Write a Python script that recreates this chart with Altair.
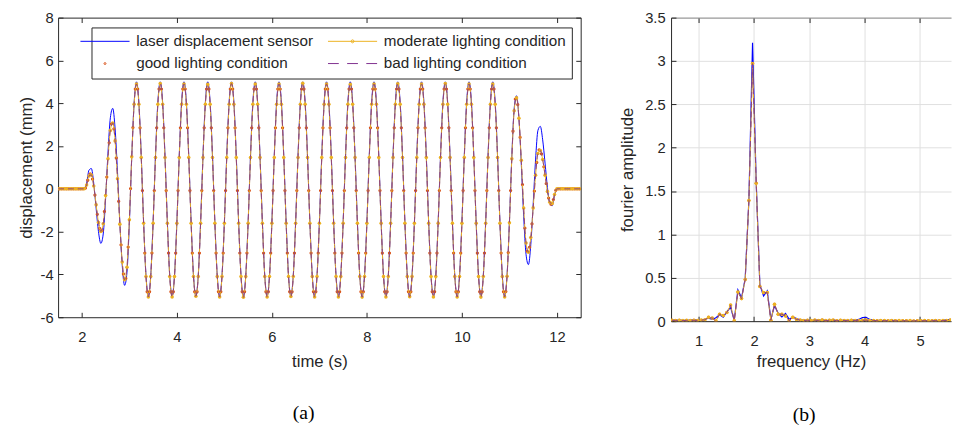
import altair as alt
import pandas as pd

# ---------------- series names / colours ----------------
LASER = "laser displacement sensor"
GOOD = "good lighting condition"
MOD = "moderate lighting condition"
BAD = "bad lighting condition"
legend_order = [LASER, GOOD, MOD, BAD]          # 2-column legend, filled column by column
legend_colors = ["#0000FF", "#D95319", "#EDB120", "#7E2F8E"]
C_LASER, C_GOOD, C_MOD, C_BAD = legend_colors
TEXT = "#262626"
SANS = "Liberation Sans"
SERIF = "Liberation Serif"

# legend glyphs (custom symbol paths, unit = sqrt(size)/2 px)
LINE = "M-5,0L5,0"
DASH = "M-5,0L-2.8,0M-1.1,0L1.1,0M2.8,0L5,0"
DOT = "M0.2,0A0.2,0.2 0 1,1 -0.2,0A0.2,0.2 0 1,1 0.2,0Z"
LINE_DOT = LINE + "M0.3,0A0.3,0.3 0 1,1 -0.3,0A0.3,0.3 0 1,1 0.3,0Z"
legend_shapes = [LINE, DOT, LINE_DOT, DASH]

# ---------------- (a) displacement time histories ----------------
time_s = [
    1.50, 1.55, 1.60, 1.65, 1.70, 1.75, 1.80, 1.85, 1.90, 1.95,
    2.00, 2.05, 2.10, 2.15, 2.20, 2.25, 2.30, 2.35, 2.40, 2.45,
    2.50, 2.55, 2.60, 2.65, 2.70, 2.75, 2.80, 2.85, 2.90, 2.95,
    3.00, 3.05, 3.10, 3.15, 3.20, 3.25, 3.30, 3.35, 3.40, 3.45,
    3.50, 3.55, 3.60, 3.65, 3.70, 3.75, 3.80, 3.85, 3.90, 3.95,
    4.00, 4.05, 4.10, 4.15, 4.20, 4.25, 4.30, 4.35, 4.40, 4.45,
    4.50, 4.55, 4.60, 4.65, 4.70, 4.75, 4.80, 4.85, 4.90, 4.95,
    5.00, 5.05, 5.10, 5.15, 5.20, 5.25, 5.30, 5.35, 5.40, 5.45,
    5.50, 5.55, 5.60, 5.65, 5.70, 5.75, 5.80, 5.85, 5.90, 5.95,
    6.00, 6.05, 6.10, 6.15, 6.20, 6.25, 6.30, 6.35, 6.40, 6.45,
    6.50, 6.55, 6.60, 6.65, 6.70, 6.75, 6.80, 6.85, 6.90, 6.95,
    7.00, 7.05, 7.10, 7.15, 7.20, 7.25, 7.30, 7.35, 7.40, 7.45,
    7.50, 7.55, 7.60, 7.65, 7.70, 7.75, 7.80, 7.85, 7.90, 7.95,
    8.00, 8.05, 8.10, 8.15, 8.20, 8.25, 8.30, 8.35, 8.40, 8.45,
    8.50, 8.55, 8.60, 8.65, 8.70, 8.75, 8.80, 8.85, 8.90, 8.95,
    9.00, 9.05, 9.10, 9.15, 9.20, 9.25, 9.30, 9.35, 9.40, 9.45,
    9.50, 9.55, 9.60, 9.65, 9.70, 9.75, 9.80, 9.85, 9.90, 9.95,
    10.00, 10.05, 10.10, 10.15, 10.20, 10.25, 10.30, 10.35, 10.40, 10.45,
    10.50, 10.55, 10.60, 10.65, 10.70, 10.75, 10.80, 10.85, 10.90, 10.95,
    11.00, 11.05, 11.10, 11.15, 11.20, 11.25, 11.30, 11.35, 11.40, 11.45,
    11.50, 11.55, 11.60, 11.65, 11.70, 11.75, 11.80, 11.85, 11.90, 11.95,
    12.00, 12.05, 12.10, 12.15, 12.20, 12.25, 12.30, 12.35, 12.40, 12.45,
    12.50,
]

laser_mm = [
    0, 0, 0, 0, 0, 0, 0, 0, 0, 0,
    0, 0, 0.26, 0.87, 0.95, 0.26, -0.90, -2.00, -2.55, -2.11,
    -0.46, 1.67, 3.32, 3.76, 2.81, 0.81, -1.57, -3.57, -4.51, -3.90,
    -1.60, 1.46, 4.01, 5.00, 4.05, 1.55, -1.55, -4.05, -5.00, -4.05,
    -1.55, 1.55, 4.05, 5.00, 4.05, 1.55, -1.55, -4.05, -5.00, -4.05,
    -1.55, 1.55, 4.05, 5.00, 4.05, 1.55, -1.55, -4.05, -5.00, -4.05,
    -1.55, 1.55, 4.05, 5.00, 4.05, 1.55, -1.55, -4.05, -5.00, -4.05,
    -1.55, 1.55, 4.05, 5.00, 4.05, 1.55, -1.55, -4.05, -5.00, -4.05,
    -1.55, 1.55, 4.05, 5.00, 4.05, 1.55, -1.55, -4.05, -5.00, -4.05,
    -1.55, 1.55, 4.05, 5.00, 4.05, 1.55, -1.55, -4.05, -5.00, -4.05,
    -1.55, 1.55, 4.05, 5.00, 4.05, 1.55, -1.55, -4.05, -5.00, -4.05,
    -1.55, 1.55, 4.05, 5.00, 4.05, 1.55, -1.55, -4.05, -5.00, -4.05,
    -1.55, 1.55, 4.05, 5.00, 4.05, 1.55, -1.55, -4.05, -5.00, -4.05,
    -1.55, 1.55, 4.05, 5.00, 4.05, 1.55, -1.55, -4.05, -5.00, -4.05,
    -1.55, 1.55, 4.05, 5.00, 4.05, 1.55, -1.55, -4.05, -5.00, -4.05,
    -1.55, 1.55, 4.05, 5.00, 4.05, 1.55, -1.55, -4.05, -5.00, -4.05,
    -1.55, 1.55, 4.05, 5.00, 4.05, 1.55, -1.55, -4.05, -5.00, -4.05,
    -1.55, 1.55, 4.05, 5.00, 4.05, 1.55, -1.55, -4.05, -5.00, -4.05,
    -1.55, 1.55, 4.05, 5.00, 4.05, 1.55, -1.55, -4.05, -5.00, -4.03,
    -1.52, 1.48, 3.75, 4.35, 3.30, 1.15, -1.28, -3.07, -3.54, -2.60,
    -0.72, 1.35, 2.73, 2.92, 2.29, 1.20, 0.07, -0.68, -0.79, -0.30,
    0, 0, 0, 0, 0, 0, 0, 0, 0, 0,
    0,
]

moderate_mm = [
    0, 0, 0, 0, 0, 0, 0, 0, 0, 0,
    0, 0, 0.18, 0.60, 0.65, 0.13, -0.74, -1.57, -1.99, -1.63,
    -0.31, 1.41, 2.73, 3.08, 2.24, 0.47, -1.65, -3.42, -4.25, -3.66,
    -1.45, 1.50, 3.95, 4.90, 3.95, 1.46, -1.61, -4.10, -5.05, -4.10,
    -1.61, 1.46, 3.95, 4.92, 3.95, 1.46, -1.61, -4.10, -5.05, -4.10,
    -1.61, 1.46, 3.95, 4.90, 3.95, 1.46, -1.61, -4.10, -5.02, -4.10,
    -1.61, 1.46, 3.95, 4.88, 3.95, 1.46, -1.61, -4.10, -5.05, -4.10,
    -1.61, 1.46, 3.95, 4.92, 3.95, 1.46, -1.61, -4.10, -5.07, -4.10,
    -1.61, 1.46, 3.95, 4.90, 3.95, 1.46, -1.61, -4.10, -5.05, -4.10,
    -1.61, 1.46, 3.95, 4.90, 3.95, 1.46, -1.61, -4.10, -5.03, -4.10,
    -1.61, 1.46, 3.95, 4.93, 3.95, 1.46, -1.61, -4.10, -5.05, -4.10,
    -1.61, 1.46, 3.95, 4.90, 3.95, 1.46, -1.61, -4.10, -5.05, -4.10,
    -1.61, 1.46, 3.95, 4.88, 3.95, 1.46, -1.61, -4.10, -5.06, -4.10,
    -1.61, 1.46, 3.95, 4.90, 3.95, 1.46, -1.61, -4.10, -5.05, -4.10,
    -1.61, 1.46, 3.95, 4.91, 3.95, 1.46, -1.61, -4.10, -5.04, -4.10,
    -1.61, 1.46, 3.95, 4.90, 3.95, 1.46, -1.61, -4.10, -5.05, -4.10,
    -1.61, 1.46, 3.95, 4.92, 3.95, 1.46, -1.61, -4.10, -5.05, -4.10,
    -1.61, 1.46, 3.95, 4.90, 3.95, 1.46, -1.61, -4.10, -5.06, -4.10,
    -1.61, 1.46, 3.95, 4.90, 3.95, 1.46, -1.61, -4.10, -5.05, -4.09,
    -1.59, 1.40, 3.65, 4.25, 3.30, 1.33, -0.90, -2.53, -2.96, -2.28,
    -0.89, 0.63, 1.65, 1.79, 1.37, 0.64, -0.13, -0.63, -0.68, -0.27,
    0, 0, 0, 0, 0, 0, 0, 0, 0, 0,
    0,
]

# the bad-lighting trace cannot be told apart from the moderate one in the picture
bad_mm = moderate_mm

time_good_s = [
    1.525, 1.575, 1.625, 1.675, 1.725, 1.775, 1.825, 1.875, 1.925, 1.975,
    2.025, 2.075, 2.125, 2.175, 2.225, 2.275, 2.325, 2.375, 2.425, 2.475,
    2.525, 2.575, 2.625, 2.675, 2.725, 2.775, 2.825, 2.875, 2.925, 2.975,
    3.025, 3.075, 3.125, 3.175, 3.225, 3.275, 3.325, 3.375, 3.425, 3.475,
    3.525, 3.575, 3.625, 3.675, 3.725, 3.775, 3.825, 3.875, 3.925, 3.975,
    4.025, 4.075, 4.125, 4.175, 4.225, 4.275, 4.325, 4.375, 4.425, 4.475,
    4.525, 4.575, 4.625, 4.675, 4.725, 4.775, 4.825, 4.875, 4.925, 4.975,
    5.025, 5.075, 5.125, 5.175, 5.225, 5.275, 5.325, 5.375, 5.425, 5.475,
    5.525, 5.575, 5.625, 5.675, 5.725, 5.775, 5.825, 5.875, 5.925, 5.975,
    6.025, 6.075, 6.125, 6.175, 6.225, 6.275, 6.325, 6.375, 6.425, 6.475,
    6.525, 6.575, 6.625, 6.675, 6.725, 6.775, 6.825, 6.875, 6.925, 6.975,
    7.025, 7.075, 7.125, 7.175, 7.225, 7.275, 7.325, 7.375, 7.425, 7.475,
    7.525, 7.575, 7.625, 7.675, 7.725, 7.775, 7.825, 7.875, 7.925, 7.975,
    8.025, 8.075, 8.125, 8.175, 8.225, 8.275, 8.325, 8.375, 8.425, 8.475,
    8.525, 8.575, 8.625, 8.675, 8.725, 8.775, 8.825, 8.875, 8.925, 8.975,
    9.025, 9.075, 9.125, 9.175, 9.225, 9.275, 9.325, 9.375, 9.425, 9.475,
    9.525, 9.575, 9.625, 9.675, 9.725, 9.775, 9.825, 9.875, 9.925, 9.975,
    10.025, 10.075, 10.125, 10.175, 10.225, 10.275, 10.325, 10.375, 10.425, 10.475,
    10.525, 10.575, 10.625, 10.675, 10.725, 10.775, 10.825, 10.875, 10.925, 10.975,
    11.025, 11.075, 11.125, 11.175, 11.225, 11.275, 11.325, 11.375, 11.425, 11.475,
    11.525, 11.575, 11.625, 11.675, 11.725, 11.775, 11.825, 11.875, 11.925, 11.975,
    12.025, 12.075, 12.125, 12.175, 12.225, 12.275, 12.325, 12.375, 12.425, 12.475,
]

good_mm = [
    0, 0, 0, 0, 0, 0, 0, 0, 0, 0,
    0, 0.03, 0.40, 0.70, 0.45, -0.29, -1.19, -1.85, -1.95, -1.06,
    0.55, 2.15, 3.04, 2.80, 1.44, -0.59, -2.62, -3.98, -4.19, -2.72,
    0.01, 2.86, 4.66, 4.66, 2.85, -0.08, -3.00, -4.81, -4.81, -3.00,
    -0.08, 2.85, 4.66, 4.66, 2.85, -0.08, -3.00, -4.81, -4.81, -3.00,
    -0.08, 2.85, 4.66, 4.66, 2.85, -0.08, -3.00, -4.81, -4.81, -3.00,
    -0.08, 2.85, 4.66, 4.66, 2.85, -0.08, -3.00, -4.81, -4.81, -3.00,
    -0.08, 2.85, 4.66, 4.66, 2.85, -0.08, -3.00, -4.81, -4.81, -3.00,
    -0.08, 2.85, 4.66, 4.66, 2.85, -0.08, -3.00, -4.81, -4.81, -3.00,
    -0.08, 2.85, 4.66, 4.66, 2.85, -0.08, -3.00, -4.81, -4.81, -3.00,
    -0.08, 2.85, 4.66, 4.66, 2.85, -0.08, -3.00, -4.81, -4.81, -3.00,
    -0.08, 2.85, 4.66, 4.66, 2.85, -0.08, -3.00, -4.81, -4.81, -3.00,
    -0.08, 2.85, 4.66, 4.66, 2.85, -0.08, -3.00, -4.81, -4.81, -3.00,
    -0.08, 2.85, 4.66, 4.66, 2.85, -0.08, -3.00, -4.81, -4.81, -3.00,
    -0.08, 2.85, 4.66, 4.66, 2.85, -0.08, -3.00, -4.81, -4.81, -3.00,
    -0.08, 2.85, 4.66, 4.66, 2.85, -0.08, -3.00, -4.81, -4.81, -3.00,
    -0.08, 2.85, 4.66, 4.66, 2.85, -0.08, -3.00, -4.81, -4.81, -3.00,
    -0.08, 2.85, 4.66, 4.66, 2.85, -0.08, -3.00, -4.81, -4.81, -3.00,
    -0.08, 2.85, 4.66, 4.66, 2.85, -0.08, -3.00, -4.81, -4.80, -2.98,
    -0.08, 2.69, 4.19, 3.93, 2.40, 0.20, -1.84, -2.92, -2.73, -1.64,
    -0.11, 1.23, 1.82, 1.63, 1.03, 0.24, -0.43, -0.72, -0.50, -0.07,
    0, 0, 0, 0, 0, 0, 0, 0, 0, 0,
]

time_ticks = [2, 4, 6, 8, 10, 12]
disp_ticks = [-6, -4, -2, 0, 2, 4, 6, 8]

# ---------------- (b) Fourier amplitude spectra ----------------
freq_hz = [
    0.517, 0.583, 0.649, 0.715, 0.781, 0.847, 0.914, 0.980, 1.046, 1.112,
    1.178, 1.245, 1.311, 1.377, 1.443, 1.509, 1.576, 1.642, 1.708, 1.774,
    1.840, 1.907, 1.973, 2.039, 2.105, 2.172, 2.238, 2.304, 2.370, 2.436,
    2.503, 2.569, 2.635, 2.701, 2.767, 2.834, 2.900, 2.966, 3.032, 3.098,
    3.165, 3.231, 3.297, 3.363, 3.429, 3.496, 3.562, 3.628, 3.694, 3.760,
    3.827, 3.893, 3.959, 4.025, 4.091, 4.158, 4.224, 4.290, 4.356, 4.422,
    4.489, 4.555, 4.621, 4.687, 4.753, 4.820, 4.886, 4.952, 5.018, 5.084,
    5.151, 5.217, 5.283, 5.349, 5.415, 5.482, 5.548,
]

laser_amp = [
    0.012, 0.010, 0.011, 0.009, 0.010, 0.012, 0.014, 0.012, 0.016, 0.022,
    0.035, 0.020, 0.040, 0.075, 0.045, 0.110, 0.160, 0.010, 0.360, 0.270,
    0.490, 1.400, 3.210, 1.600, 0.420, 0.290, 0.350, 0.020, 0.180, 0.090,
    0.050, 0.090, 0.020, 0.050, 0.030, 0.015, 0.010, 0.012, 0.008, 0.011,
    0.009, 0.012, 0.008, 0.010, 0.011, 0.007, 0.010, 0.009, 0.008, 0.011,
    0.012, 0.020, 0.040, 0.045, 0.020, 0.010, 0.008, 0.009, 0.007, 0.008,
    0.009, 0.006, 0.008, 0.007, 0.006, 0.008, 0.006, 0.007, 0.006, 0.008,
    0.006, 0.007, 0.009, 0.007, 0.010, 0.015, 0.020,
]

moderate_amp = [
    0.010, 0.008, 0.010, 0.006, 0.009, 0.007, 0.010, 0.008, 0.012, 0.015,
    0.045, 0.035, 0.002, 0.080, 0.065, 0.100, 0.185, 0.005, 0.335, 0.260,
    0.480, 1.390, 2.970, 1.590, 0.400, 0.330, 0.330, 0.010, 0.195, 0.080,
    0.080, 0.060, 0.005, 0.045, 0.020, 0.012, 0.008, 0.010, 0.006, 0.012,
    0.008, 0.014, 0.006, 0.010, 0.012, 0.005, 0.010, 0.008, 0.006, 0.010,
    0.008, 0.005, 0.009, 0.012, 0.006, 0.008, 0.005, 0.007, 0.006, 0.005,
    0.007, 0.004, 0.006, 0.005, 0.004, 0.006, 0.003, 0.005, 0.004, 0.006,
    0.004, 0.005, 0.007, 0.004, 0.006, 0.008, 0.012,
]
# the three camera spectra lie on top of each other in the picture
good_amp = moderate_amp
bad_amp = moderate_amp

freq_ticks = [1, 2, 3, 4, 5]
amp_ticks = [0, 0.5, 1, 1.5, 2, 2.5, 3, 3.5]

# ---------------- tables ----------------
d_laser = pd.DataFrame({"t": time_s, "d": laser_mm})
d_mod = pd.DataFrame({"t": time_s, "d": moderate_mm})
d_bad = pd.DataFrame({"t": time_s, "d": bad_mm})
d_good = pd.DataFrame({"t": time_good_s, "d": good_mm, "series": GOOD})

f_laser = pd.DataFrame({"f": freq_hz, "a": laser_amp})
f_good = pd.DataFrame({"f": freq_hz, "a": good_amp})
f_mod = pd.DataFrame({"f": freq_hz, "a": moderate_amp})
f_bad = pd.DataFrame({"f": freq_hz, "a": bad_amp})

legend = alt.Legend(
    title=None, orient="none", legendX=34, legendY=10, columns=2,
    symbolSize=100, symbolStrokeWidth=1, symbolOpacity=1, labelOffset=24,
    labelFont=SANS, labelFontSize=15.5, labelColor=TEXT, labelLimit=0,
    padding=6, rowPadding=6, columnPadding=12,
    fillColor="white", strokeColor=TEXT,
)


def inward(orient, offset, values, domain=False, domain_color=TEXT):
    return alt.Axis(orient=orient, offset=offset, values=values, labels=False,
                    title=None, domain=domain, domainColor=domain_color,
                    ticks=True, tickSize=5, tickColor=TEXT, grid=False)


# ---------------- panel (a) ----------------
W1, H1 = 532, 305
xs1 = alt.Scale(domain=[1.5, 12.5], nice=False, zero=False)
ys1 = alt.Scale(domain=[-6, 8], nice=False, zero=False)

a_laser = alt.Chart(d_laser).mark_line(color=C_LASER, strokeWidth=1, interpolate="monotone", clip=True).encode(
    x=alt.X("t:Q", scale=xs1, axis=alt.Axis(values=time_ticks, title="time (s)", ticks=False,
                                            tickSize=0, labelPadding=13, titlePadding=9)),
    y=alt.Y("d:Q", scale=ys1, axis=alt.Axis(values=disp_ticks, title="displacement (mm)", ticks=False,
                                            tickSize=0, labelPadding=5, titlePadding=5,
                                            labelExpr="datum.value")),
)
a_good = alt.Chart(d_good).mark_point(filled=False, size=100, strokeWidth=1.3, opacity=1, clip=True).encode(
    x=alt.X("t:Q", scale=xs1, axis=inward("top", -H1, time_ticks)),
    y=alt.Y("d:Q", scale=ys1, axis=inward("right", -W1, disp_ticks)),
    color=alt.Color("series:N", scale=alt.Scale(domain=legend_order, range=legend_colors), legend=legend),
    shape=alt.Shape("series:N", scale=alt.Scale(domain=legend_order, range=legend_shapes), legend=legend),
)
a_mod = alt.Chart(d_mod).mark_line(color=C_MOD, strokeWidth=1, interpolate="monotone", clip=True).encode(
    x=alt.X("t:Q", scale=xs1, axis=inward("bottom", -H1, time_ticks, domain=True)),
    y=alt.Y("d:Q", scale=ys1, axis=inward("left", -W1, disp_ticks, domain=True)),
)
a_mod_pts = alt.Chart(d_mod).mark_circle(size=13, color=C_MOD, opacity=1, clip=True).encode(
    x=alt.X("t:Q", scale=xs1, axis=None),
    y=alt.Y("d:Q", scale=ys1, axis=None),
)
a_bad = alt.Chart(d_bad).mark_line(color=C_BAD, strokeWidth=1, strokeDash=[6, 4], opacity=0.85,
                                   interpolate="monotone", clip=True).encode(
    x=alt.X("t:Q", scale=xs1, axis=None),
    y=alt.Y("d:Q", scale=ys1, axis=None),
)

panel_a = alt.layer(a_laser, a_good, a_mod, a_mod_pts, a_bad).resolve_axis(
    x="independent", y="independent"
).properties(
    width=W1, height=H1,
    title=alt.TitleParams("(a)", orient="bottom", anchor="middle", font=SERIF, fontSize=20,
                          fontWeight="normal", color="black", offset=35, dx=-16),
)

# ---------------- panel (b) ----------------
W2, H2 = 285, 309
xs2 = alt.Scale(domain=[0.5, 5.56], nice=False, zero=False)
ys2 = alt.Scale(domain=[0, 3.5], nice=False, zero=False)
GRID = "#DFDFDF"

b_laser = alt.Chart(f_laser).mark_line(color=C_LASER, strokeWidth=1.2, clip=True).encode(
    x=alt.X("f:Q", scale=xs2, axis=alt.Axis(values=freq_ticks, title="frequency (Hz)", ticks=False,
                                            tickSize=0, labelPadding=13, titlePadding=5,
                                            grid=True, gridColor=GRID)),
    y=alt.Y("a:Q", scale=ys2, axis=alt.Axis(values=amp_ticks, title="fourier amplitude", ticks=False,
                                            tickSize=0, labelPadding=6, titlePadding=8,
                                            grid=True, gridColor=GRID, labelExpr="datum.value")),
)
b_good = alt.Chart(f_good).mark_circle(size=9, color=C_GOOD, opacity=1, clip=True).encode(
    x=alt.X("f:Q", scale=xs2, axis=inward("top", -H2, freq_ticks)),
    y=alt.Y("a:Q", scale=ys2, axis=inward("right", -W2, amp_ticks)),
)
b_mod = alt.Chart(f_mod).mark_line(color=C_MOD, strokeWidth=1, clip=True).encode(
    x=alt.X("f:Q", scale=xs2, axis=inward("bottom", -H2, freq_ticks, domain=True, domain_color="#8C8C8C")),
    y=alt.Y("a:Q", scale=ys2, axis=None),
)
b_mod_pts = alt.Chart(f_mod).mark_circle(size=13, color=C_MOD, opacity=1, clip=True).encode(
    x=alt.X("f:Q", scale=xs2, axis=None),
    y=alt.Y("a:Q", scale=ys2, axis=None),
)
b_bad = alt.Chart(f_bad).mark_line(color=C_BAD, strokeWidth=1, strokeDash=[6, 4], opacity=0.85,
                                   clip=True).encode(
    x=alt.X("f:Q", scale=xs2, axis=None),
    y=alt.Y("a:Q", scale=ys2, axis=None),
)

panel_b = alt.layer(b_laser, b_good, b_mod, b_mod_pts, b_bad).resolve_axis(
    x="independent", y="independent"
).properties(
    width=W2, height=H2,
    title=alt.TitleParams("(b)", orient="bottom", anchor="middle", font=SERIF, fontSize=20,
                          fontWeight="normal", color="black", offset=37, dx=-7),
)

chart = alt.hconcat(panel_a, panel_b, spacing=37).properties(
    padding={"left": 9, "top": -2, "right": 0, "bottom": 0},
).configure_view(
    stroke="transparent",
).configure_axis(
    labelFont=SANS, labelFontSize=15, labelColor=TEXT,
    titleFont=SANS, titleFontSize=17, titleFontWeight="normal", titleColor=TEXT,
    domainColor=TEXT, domainWidth=1, tickColor=TEXT, grid=False,
)

chart.save("out.html", embed_options={"renderer": "svg", "actions": False})
